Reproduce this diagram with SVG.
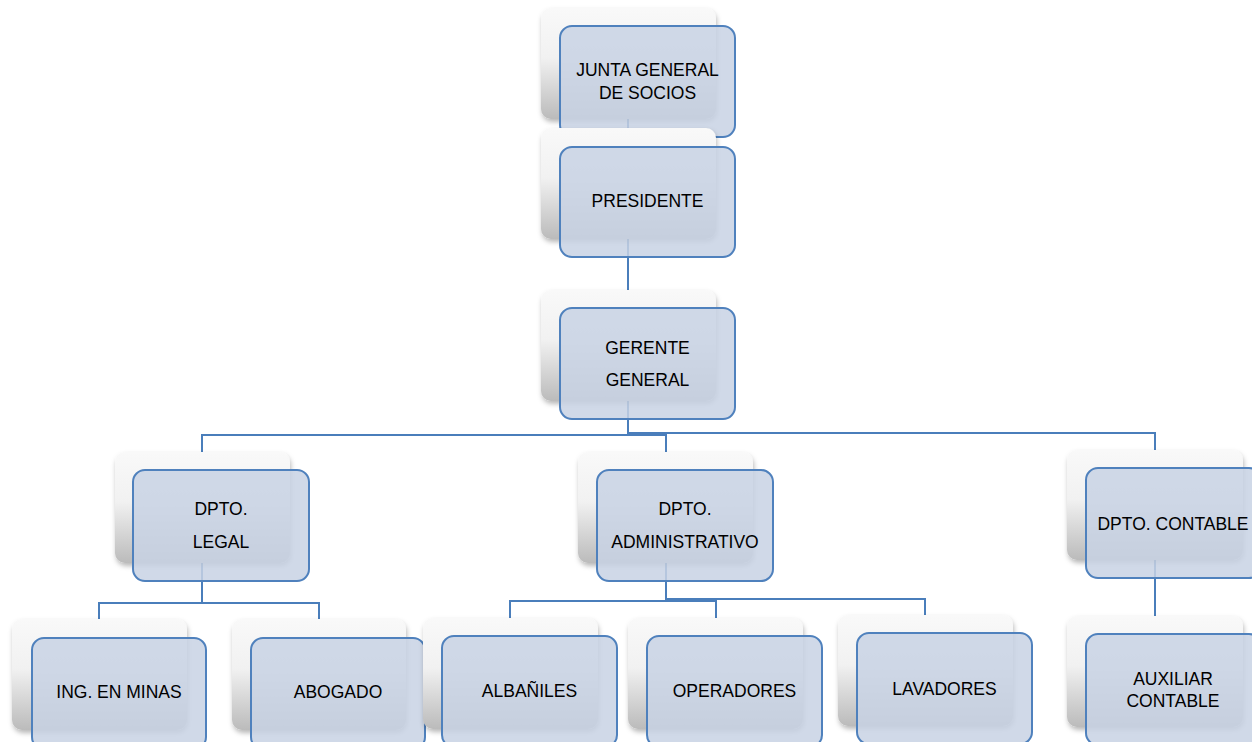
<svg xmlns="http://www.w3.org/2000/svg" width="1252" height="742" viewBox="0 0 1252 742">
<defs>
<linearGradient id="backGrad" x1="0" y1="0" x2="0" y2="1">
<stop offset="0" stop-color="#F9F9F9"/>
<stop offset="0.45" stop-color="#F1F1F1"/>
<stop offset="1" stop-color="#BBBBBB"/>
</linearGradient>
<filter id="shadow" x="-10%" y="-10%" width="125%" height="130%">
<feDropShadow dx="1" dy="3" stdDeviation="2.5" flood-color="#000" flood-opacity="0.28"/>
</filter>
<style>
.back{fill:url(#backGrad);filter:url(#shadow);}
.front{fill:#C8D2E4;fill-opacity:0.85;stroke:#4F81BD;stroke-width:2;}
.conn{fill:none;stroke:#4A7EBB;stroke-width:2;}
text{font-family:"Liberation Sans",Arial,sans-serif;font-size:17.5px;fill:#000;text-anchor:middle;}
</style>
</defs>
<rect width="1252" height="742" fill="#FFFFFF"/>
<g id="connectors">
<path class="conn" d="M628,112 V132"/>
<path class="conn" d="M628,232 V295"/>
<path class="conn" d="M628,395 V435 H202 V456"/>
<path class="conn" d="M628,395 V435 H666 V456"/>
<path class="conn" d="M628,395 V433 H1155 V454"/>
<path class="conn" d="M202,556 V603 H99 V623"/>
<path class="conn" d="M202,556 V603 H319 V623"/>
<path class="conn" d="M666,556 V601 H510 V622"/>
<path class="conn" d="M666,556 V601 H716 V622"/>
<path class="conn" d="M666,556 V599 H925 V619"/>
<path class="conn" d="M1155,553 V620"/>
</g>
<g id="junta">
<rect class="back" x="541" y="8" width="175" height="111" rx="10"/>
<rect class="front" x="560" y="26" width="175" height="111" rx="12"/>
<text x="647.5" y="76">JUNTA GENERAL</text>
<text x="647.5" y="99">DE SOCIOS</text>
</g>
<g id="presidente">
<rect class="back" x="541" y="128" width="175" height="111" rx="10"/>
<rect class="front" x="560" y="147" width="175" height="110" rx="12"/>
<text x="647.5" y="207">PRESIDENTE</text>
</g>
<g id="gerente">
<rect class="back" x="541" y="290" width="175" height="111" rx="10"/>
<rect class="front" x="560" y="308" width="175" height="111" rx="12"/>
<text x="647.5" y="354">GERENTE</text>
<text x="647.5" y="386">GENERAL</text>
</g>
<g id="dpto-legal">
<rect class="back" x="115" y="452" width="175" height="111" rx="10"/>
<rect class="front" x="133" y="470" width="176" height="111" rx="12"/>
<text x="221" y="515">DPTO.</text>
<text x="221" y="548">LEGAL</text>
</g>
<g id="dpto-administrativo">
<rect class="back" x="578" y="452" width="175" height="111" rx="10"/>
<rect class="front" x="597" y="470" width="176" height="111" rx="12"/>
<text x="685" y="515">DPTO.</text>
<text x="685" y="548">ADMINISTRATIVO</text>
</g>
<g id="dpto-contable">
<rect class="back" x="1067" y="450" width="176" height="110" rx="10"/>
<rect class="front" x="1086" y="468" width="175" height="110" rx="12"/>
<text x="1173" y="530">DPTO. CONTABLE</text>
</g>
<g id="ing-minas">
<rect class="back" x="12" y="619" width="175" height="111" rx="10"/>
<rect class="front" x="32" y="638" width="174" height="111" rx="12"/>
<text x="119" y="698">ING. EN MINAS</text>
</g>
<g id="abogado">
<rect class="back" x="232" y="619" width="174" height="111" rx="10"/>
<rect class="front" x="251" y="638" width="174" height="111" rx="12"/>
<text x="338" y="698">ABOGADO</text>
</g>
<g id="albaniles">
<rect class="back" x="423" y="618" width="175" height="111" rx="10"/>
<rect class="front" x="442" y="636" width="175" height="111" rx="12"/>
<text x="529.5" y="697">ALBAÑILES</text>
</g>
<g id="operadores">
<rect class="back" x="628" y="618" width="175" height="111" rx="10"/>
<rect class="front" x="647" y="636" width="175" height="111" rx="12"/>
<text x="734.5" y="697">OPERADORES</text>
</g>
<g id="lavadores">
<rect class="back" x="838" y="615" width="175" height="111" rx="10"/>
<rect class="front" x="857" y="633" width="175" height="111" rx="12"/>
<text x="944.5" y="695">LAVADORES</text>
</g>
<g id="auxiliar-contable">
<rect class="back" x="1067" y="616" width="176" height="111" rx="10"/>
<rect class="front" x="1086" y="634" width="175" height="111" rx="12"/>
<text x="1173" y="685">AUXILIAR</text>
<text x="1173" y="707">CONTABLE</text>
</g>
</svg>
